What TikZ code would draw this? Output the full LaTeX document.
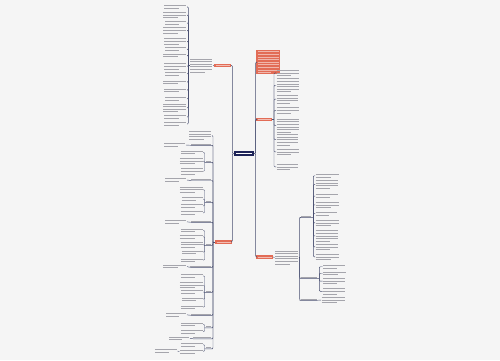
\documentclass[tikz,border=0pt]{standalone}
\usepackage{tikz}
\usetikzlibrary{positioning}
\definecolor{mapBack}{RGB}{245,245,245}
\definecolor{mapHub}{RGB}{30,36,88}
\definecolor{mapRed}{RGB}{226,108,86}
\definecolor{mapLine}{RGB}{72,78,112}
\definecolor{mapInk}{RGB}{165,165,172}
% the text of the map is far too small to be read; every line of it is
% drawn as a thin bar of the width it takes
\newcount\fakecnt
\newdimen\fakeh \fakeh=0.7pt
\newcommand\fake[2]{\vbox{\baselineskip=2.6pt\lineskiplimit=-5pt\lineskip=0pt
  \fakecnt=#1\relax
  \loop\ifnum\fakecnt>1 \hbox{\rule{#2pt}{\fakeh}}\advance\fakecnt by -1 \repeat
  \hbox{\rule{\ifnum#1>1 0.65\fi\dimexpr#2pt\relax}{\fakeh}}}}
\tikzset{
  % the root of the map
  hub/.style={fill=mapHub, text=white, inner xsep=2pt, inner ysep=2.2pt,
              execute at begin node={\fakeh=0.55pt}},
  % first level topics
  branch/.style={fill=mapRed, text=white!55!mapRed, inner xsep=1.5pt, inner ysep=1.5pt,
                 execute at begin node={\fakeh=0.5pt}},
  redtext/.style={fill=mapRed, text=white!50!mapRed, inner sep=1.3pt,
                  execute at begin node={\fakeh=0.55pt}},
  % plain text items and the short underlined cues
  leaf/.style={text=mapInk, inner sep=0.4pt},
  cue/.style={text=mapInk, inner xsep=0.3pt, inner ysep=0.6pt},
  % connectors
  link/.style={draw=mapLine, line width=0.45pt, rounded corners=1pt},
}
\begin{document}
\begin{tikzpicture}[x=1pt, y=-1pt]
\useasboundingbox[fill=mapBack] (0,0) rectangle (500,360);

\node[hub] (hub) at (244,153.5) {\fake{1}{16}};

% ============================ upper left topic =============================
\node[branch] (lup) at (222.5,65.3) {\fake{1}{14}};
\node[leaf, anchor=east] (luptxt) at (213,65.5) {\fake{6}{22}};
\node[leaf, anchor=north east] (lupa) at (187,4.5)   {\fake{2}{22}};
\node[leaf, anchor=north east] (lupb) at (187,11.5)  {\fake{3}{23}};
\node[leaf, anchor=north east] (lupc) at (187,20.7)  {\fake{2}{21}};
\node[leaf, anchor=north east] (lupd) at (187,26.7)  {\fake{3}{23}};
\node[leaf, anchor=north east] (lupe) at (187,37.8)  {\fake{3}{22}};
\node[leaf, anchor=north east] (lupf) at (187,46.8)  {\fake{2}{21}};
\node[leaf, anchor=north east] (lupg) at (187,53)    {\fake{2}{23}};
\node[leaf, anchor=north east] (luph) at (187,62.8)  {\fake{3}{22}};
\node[leaf, anchor=north east] (lupi) at (187,71.6)  {\fake{2}{21}};
\node[leaf, anchor=north east] (lupj) at (187,80)    {\fake{2}{23}};
\node[leaf, anchor=north east] (lupk) at (187,88)    {\fake{2}{22}};
\node[leaf, anchor=north east] (lupl) at (187,96.6)  {\fake{2}{21}};
\node[leaf, anchor=north east] (lupm) at (187,103)   {\fake{4}{23}};
\node[leaf, anchor=north east] (lupn) at (187,114.8) {\fake{2}{22}};
\node[leaf, anchor=north east] (lupo) at (187,121.8) {\fake{2}{22}};

\draw[link] (hub.west) -- ++(-1.5,0) |- (lup.east);
\draw[link] (lup.west) -- (luptxt.east);
\draw[link] (luptxt.west) -- ++(-1.5,0) coordinate (lupfork);
\foreach \k in {a,b,c,d,e,f,g,h,i,j,k,l,m,n,o}
  \draw[link] (lupfork) |- (lup\k.east);

% ============================ lower left topic =============================
\node[branch] (llow) at (223.5,241.8) {\fake{1}{14}};
\coordinate[left=1.8pt of llow.west] (lfork);

\node[leaf, anchor=east] (ma) at (212,135.5) {\fake{4}{22}};

\node[cue, anchor=south east] (mb) at (211.5,145.3) {\fake{1}{20}};
\node[leaf, anchor=east] (mbx) at (186,145) {\fake{2}{21}};

\node[cue, anchor=south east] (mc) at (211.5,162.3) {\fake{1}{5}};
\node[leaf, anchor=north east] (mca) at (203.5,150)   {\fake{2}{22}};
\node[leaf, anchor=north east] (mcb) at (203.5,157.5) {\fake{3}{23}};
\node[leaf, anchor=north east] (mcc) at (203.5,167.8) {\fake{3}{22}};

\node[cue, anchor=south east] (md) at (211.5,180.5) {\fake{1}{20}};
\node[leaf, anchor=east] (mdx) at (187,180) {\fake{2}{21}};

\node[cue, anchor=south east] (me) at (211.5,202.3) {\fake{1}{5}};
\node[leaf, anchor=north east] (mea) at (203.5,186)   {\fake{3}{23}};
\node[leaf, anchor=north east] (meb) at (203.5,196.8) {\fake{2}{21}};
\node[leaf, anchor=north east] (mec) at (203.5,203.8) {\fake{2}{22}};
\node[leaf, anchor=north east] (med) at (203.5,210.8) {\fake{2}{22}};

\node[cue, anchor=south east] (mf) at (211.5,222.3) {\fake{1}{20}};
\node[leaf, anchor=east] (mfx) at (187,221.8) {\fake{2}{21}};

\node[cue, anchor=south east] (mg) at (211.5,245.3) {\fake{1}{5}};
\node[leaf, anchor=north east] (mga) at (203.5,228)   {\fake{2}{22}};
\node[leaf, anchor=north east] (mgb) at (203.5,234.3) {\fake{2}{23}};
\node[leaf, anchor=north east] (mgc) at (203.5,241)   {\fake{3}{22}};
\node[leaf, anchor=north east] (mgd) at (203.5,250)   {\fake{2}{21}};
\node[leaf, anchor=north east] (mge) at (203.5,258)   {\fake{2}{22}};

\node[cue, anchor=south east] (mh) at (211.5,267.3) {\fake{1}{21}};
\node[leaf, anchor=east] (mhx) at (187,266.5) {\fake{2}{23}};

\node[cue, anchor=south east] (mi) at (211.5,292.3) {\fake{1}{5}};
\node[leaf, anchor=north east] (mia) at (203.5,273.5) {\fake{2}{22}};
\node[leaf, anchor=north east] (mib) at (203.5,281.6) {\fake{3}{23}};
\node[leaf, anchor=north east] (mic) at (203.5,289.6) {\fake{2}{22}};
\node[leaf, anchor=north east] (mid) at (203.5,297)   {\fake{2}{21}};
\node[leaf, anchor=north east] (mie) at (203.5,305)   {\fake{2}{22}};

\node[cue, anchor=south east] (mj) at (211.5,315.3) {\fake{1}{20}};
\node[leaf, anchor=east] (mjx) at (187,314.8) {\fake{2}{20}};

\node[cue, anchor=south east] (mk) at (211.5,327.8) {\fake{1}{5}};
\node[leaf, anchor=north east] (mka) at (203.5,322)   {\fake{2}{22}};
\node[leaf, anchor=north east] (mkb) at (203.5,329.5) {\fake{2}{22}};

\node[cue, anchor=south east] (ml) at (211.5,338.8) {\fake{1}{18}};
\node[leaf, anchor=east] (mlx) at (190,338.3) {\fake{2}{20}};

\node[cue, anchor=south east] (mm) at (211.5,348.8) {\fake{1}{5}};
\node[leaf, anchor=north east] (mma) at (203.5,342.3) {\fake{2}{22}};
\node[leaf, anchor=north east] (mmb) at (203.5,349.3) {\fake{2}{23}};
\node[leaf, anchor=east] (mmc) at (177.5,351) {\fake{2}{22}};

\draw[link] (hub.west) -- ++(-1.5,0) |- (llow.east);
\draw[link] (llow.west) -- (lfork);
\draw[link] (lfork) |- (ma.east);
\foreach \k in {b,d,f,h,j,l}
  \draw[link] (lfork) |- (m\k.south east) -- (m\k.south west) -- (m\k x.east);
\draw[link] (lfork) |- (mc.south east) -- (mc.south west) -- ++(-1,0) coordinate (mcfork);
\foreach \k in {a,b,c} \draw[link] (mcfork) |- (mc\k.east);
\draw[link] (lfork) |- (me.south east) -- (me.south west) -- ++(-1,0) coordinate (mefork);
\foreach \k in {a,b,c,d} \draw[link] (mefork) |- (me\k.east);
\draw[link] (lfork) |- (mg.south east) -- (mg.south west) -- ++(-1,0) coordinate (mgfork);
\foreach \k in {a,b,c,d,e} \draw[link] (mgfork) |- (mg\k.east);
\draw[link] (lfork) |- (mi.south east) -- (mi.south west) -- ++(-1,0) coordinate (mifork);
\foreach \k in {a,b,c,d,e} \draw[link] (mifork) |- (mi\k.east);
\draw[link] (lfork) |- (mk.south east) -- (mk.south west) -- ++(-1,0) coordinate (mkfork);
\foreach \k in {a,b} \draw[link] (mkfork) |- (mk\k.east);
\draw[link] (lfork) |- (mm.south east) -- (mm.south west) -- ++(-1,0) coordinate (mmfork);
\foreach \k in {a,b} \draw[link] (mmfork) |- (mm\k.east);
\draw[link] (mmb.west) -- (mmc.east);

% ============================ upper right topics ===========================
\node[redtext, anchor=west] (rtop) at (256,62) {\fake{9}{21.5}};

\node[branch] (rmid) at (264,119.3) {\fake{1}{13}};
\node[leaf, anchor=north west] (rmida) at (276,69.3)  {\fake{3}{22}};
\node[leaf, anchor=north west] (rmidb) at (276,77.8)  {\fake{6}{22}};
\node[leaf, anchor=north west] (rmidc) at (276,94.3)  {\fake{4}{21}};
\node[leaf, anchor=north west] (rmidd) at (276,106.8) {\fake{3}{22}};
\node[leaf, anchor=north west] (rmide) at (276,118.2) {\fake{6}{22}};
\node[leaf, anchor=north west] (rmidf) at (276,133.5) {\fake{5}{21}};
\node[leaf, anchor=north west] (rmidg) at (276,148.3) {\fake{3}{22}};
\node[leaf, anchor=north west] (rmidh) at (276,163.3) {\fake{3}{21}};

\draw[link] (hub.east) -- ++(1.5,0) |- (rtop.west);
\draw[link] (hub.east) -- ++(1.5,0) |- (rmid.west);
\draw[link] (rmid.east) -- ++(1.8,0) coordinate (rmidfork);
\foreach \k in {a,b,c,d,e,f,g,h}
  \draw[link] (rmidfork) |- (rmid\k.west);

% ============================ lower right topic ============================
\node[branch] (rlow) at (264.5,257) {\fake{1}{14}};
\node[leaf, anchor=west] (rlowtxt) at (274.5,257.5) {\fake{6}{23}};

\node[cue, anchor=south west] (ra) at (300.5,217.3) {\fake{1}{10}};
\node[leaf, anchor=north west] (raa) at (315,173.5) {\fake{2}{23}};
\node[leaf, anchor=north west] (rab) at (315,179.5) {\fake{4}{22}};
\node[leaf, anchor=north west] (rac) at (315,193.8) {\fake{2}{22}};
\node[leaf, anchor=north west] (rad) at (315,201.3) {\fake{3}{23}};
\node[leaf, anchor=north west] (rae) at (315,211.3) {\fake{2}{21}};
\node[leaf, anchor=north west] (raf) at (315,219.3) {\fake{3}{23}};
\node[leaf, anchor=north west] (rag) at (315,229.8) {\fake{5}{22}};
\node[leaf, anchor=north west] (rah) at (315,243.3) {\fake{3}{22}};
\node[leaf, anchor=north west] (rai) at (315,253.3) {\fake{3}{23}};

\node[cue, anchor=south west] (rb) at (300.5,278.3) {\fake{1}{16}};
\node[leaf, anchor=north west] (rba) at (322.5,264.5) {\fake{2}{22}};
\node[leaf, anchor=north west] (rbb) at (322.5,271)   {\fake{2}{23}};
\node[leaf, anchor=north west] (rbc) at (322.5,277.6) {\fake{3}{22}};
\node[leaf, anchor=north west] (rbd) at (322.5,287.8) {\fake{3}{22}};

\node[cue, anchor=south west] (rc) at (300.5,300.3) {\fake{1}{16}};
\node[leaf, anchor=west] (rcx) at (321,300) {\fake{3}{23}};

\draw[link] (hub.east) -- ++(1.5,0) |- (rlow.west);
\draw[link] (rlow.east) -- (rlowtxt.west);
\draw[link] (rlowtxt.east) -- ++(1,0) coordinate (rfork);
\draw[link] (rfork) |- (ra.south west) -- (ra.south east) -- ++(1.8,0) coordinate (rafork);
\foreach \k in {a,b,c,d,e,f,g,h,i} \draw[link] (rafork) |- (ra\k.west);
\draw[link] (rfork) |- (rb.south west) -- (rb.south east) -- ++(1.8,0) coordinate (rbfork);
\foreach \k in {a,b,c,d} \draw[link] (rbfork) |- (rb\k.west);
\draw[link] (rfork) |- (rc.south west) -- (rc.south east) -- (rcx.west);

\end{tikzpicture}
\end{document}
